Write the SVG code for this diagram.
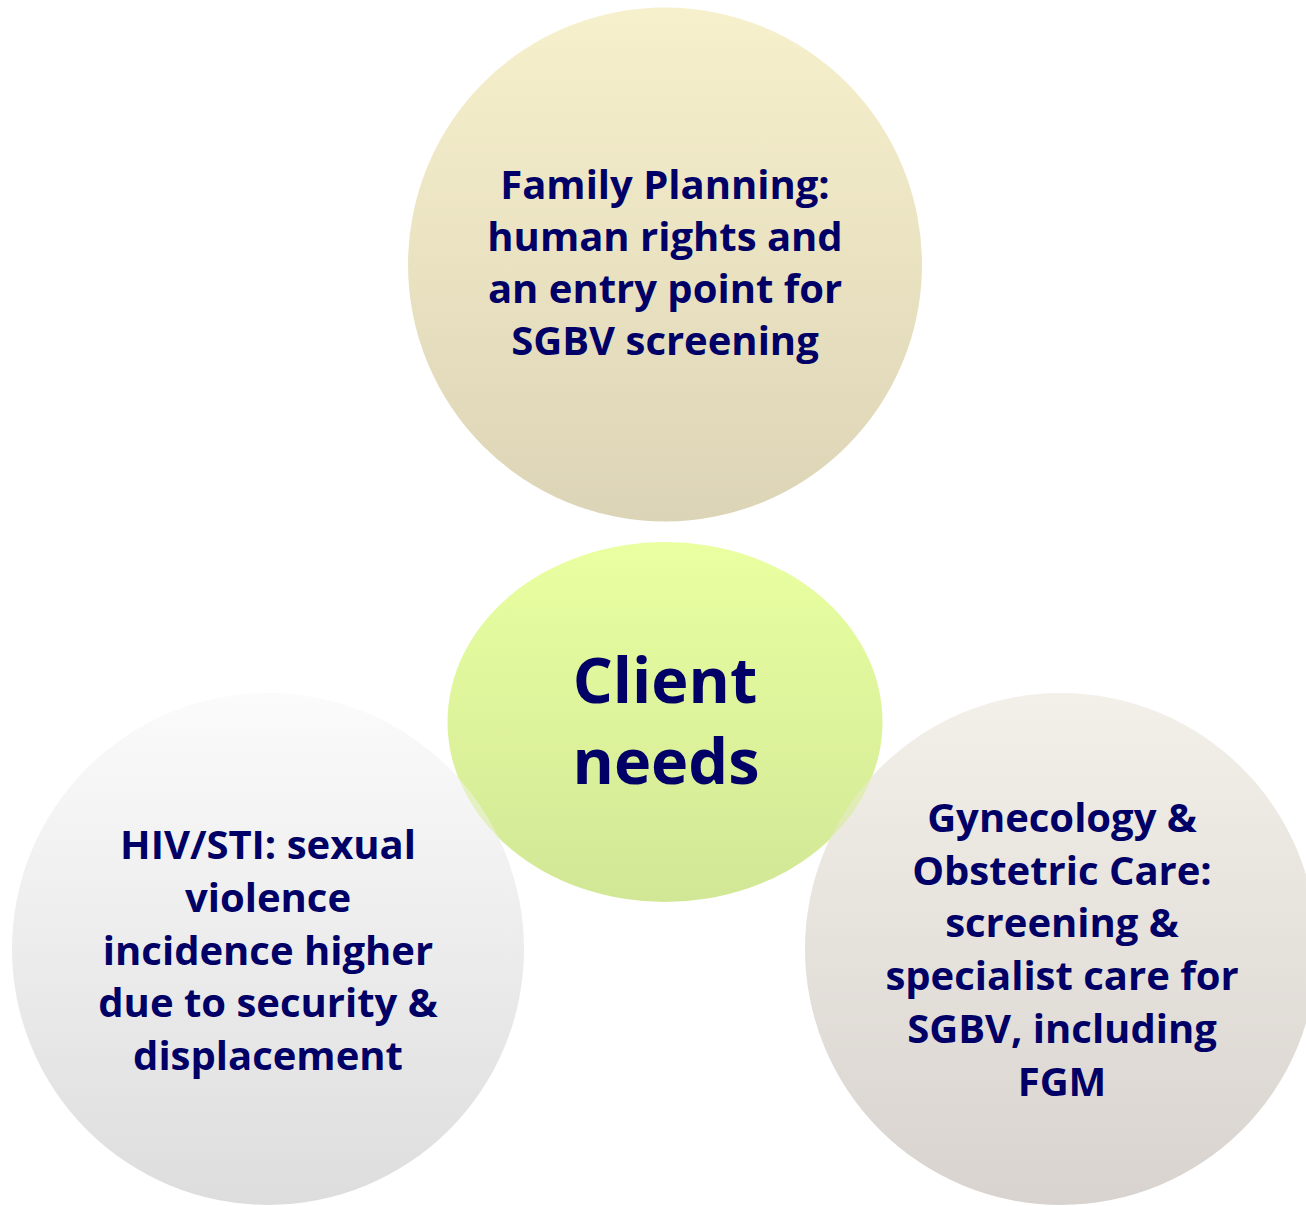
<svg xmlns="http://www.w3.org/2000/svg" width="1306" height="1206" viewBox="0 0 1306 1206">
  <style>
    .label { font-family: "Open Sans", "Noto Sans", "Liberation Sans", sans-serif; font-weight: 700; fill: #000066; text-anchor: middle; }
    .body { font-size: 40px; }
    .hub { font-size: 63px; }
  </style>
  <defs>
    <linearGradient id="g-top" x1="0" y1="0" x2="0" y2="1">
      <stop offset="0" stop-color="#F7F0CC"/>
      <stop offset="1" stop-color="#DCD4B6"/>
    </linearGradient>
    <linearGradient id="g-hub" x1="0" y1="0" x2="0" y2="1">
      <stop offset="0" stop-color="#E9FFA0"/>
      <stop offset="1" stop-color="#D2E796"/>
    </linearGradient>
    <linearGradient id="g-left" x1="0" y1="0" x2="0" y2="1">
      <stop offset="0" stop-color="#FBFBFB"/>
      <stop offset="1" stop-color="#DDDDDD"/>
    </linearGradient>
    <linearGradient id="g-right" x1="0" y1="0" x2="0" y2="1">
      <stop offset="0" stop-color="#F3EFE9"/>
      <stop offset="1" stop-color="#D8D3CE"/>
    </linearGradient>
    <!-- outer circles turn partly see-through where they cross the hub -->
    <mask id="m-left" maskUnits="userSpaceOnUse" x="0" y="0" width="1306" height="1206">
      <rect x="0" y="0" width="1306" height="1206" fill="#fff"/>
      <ellipse cx="665" cy="722" rx="217.5" ry="180" fill="#000" fill-opacity="0.55"/>
    </mask>
    <mask id="m-right" maskUnits="userSpaceOnUse" x="0" y="0" width="1306" height="1206">
      <rect x="0" y="0" width="1306" height="1206" fill="#fff"/>
      <ellipse cx="665" cy="722" rx="217.5" ry="180" fill="#000" fill-opacity="0.6"/>
    </mask>
  </defs>

  <rect x="0" y="0" width="1306" height="1206" fill="#FFFFFF"/>

  <g id="connectors"/>

  <g id="node-family-planning">
    <circle cx="665" cy="264.5" r="257" fill="url(#g-top)"/>
    <text class="label body" x="665" y="199">Family Planning:</text>
    <text class="label body" x="665" y="251">human rights and</text>
    <text class="label body" x="665" y="303">an entry point for</text>
    <text class="label body" x="665" y="355">SGBV screening</text>
  </g>

  <g id="node-client-needs">
    <ellipse cx="665" cy="722" rx="217.5" ry="180" fill="url(#g-hub)"/>
    <text class="label hub" x="665" y="703">Client</text>
    <text class="label hub" x="666" y="784">needs</text>
  </g>

  <g id="node-hiv-sti">
    <circle cx="268" cy="949" r="256" fill="url(#g-left)" mask="url(#m-left)"/>
    <text class="label body" x="268" y="859">HIV/STI: sexual</text>
    <text class="label body" x="268" y="912">violence</text>
    <text class="label body" x="268" y="965">incidence higher</text>
    <text class="label body" x="268" y="1017">due to security &amp;</text>
    <text class="label body" x="268" y="1070">displacement</text>
  </g>

  <g id="node-gyn-obstetric">
    <circle cx="1061" cy="949" r="256" fill="url(#g-right)" mask="url(#m-right)"/>
    <text class="label body" x="1062" y="832">Gynecology &amp;</text>
    <text class="label body" x="1062" y="885">Obstetric Care:</text>
    <text class="label body" x="1062" y="937">screening &amp;</text>
    <text class="label body" x="1062" y="990">specialist care for</text>
    <text class="label body" x="1062" y="1043">SGBV, including</text>
    <text class="label body" x="1062" y="1096">FGM</text>
  </g>
</svg>
